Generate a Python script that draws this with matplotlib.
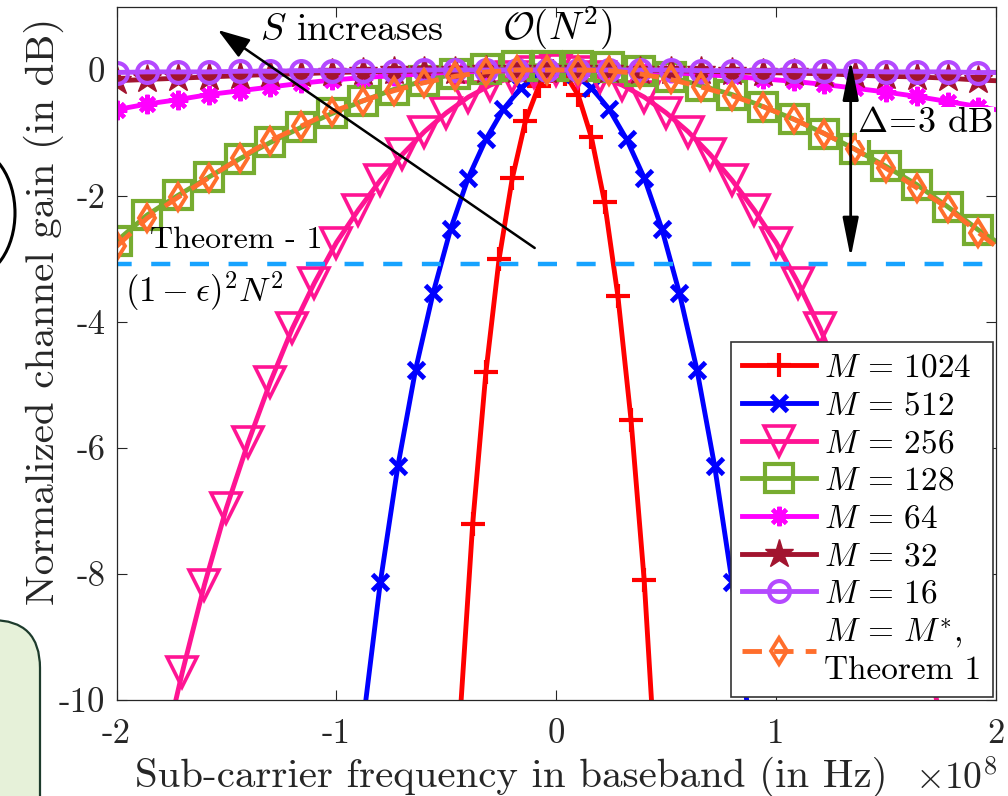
import numpy as np
import matplotlib.pyplot as plt
from matplotlib.patches import FancyBboxPatch, Ellipse
from matplotlib.transforms import IdentityTransform

plt.rcParams['font.family'] = 'serif'
plt.rcParams['font.serif'] = ['cmr10']
plt.rcParams['mathtext.fontset'] = 'cm'
plt.rcParams['axes.formatter.use_mathtext'] = True

# frequencies in units of 1e8 Hz
f_wide = [-2.00, -1.86, -1.72, -1.58, -1.44, -1.30, -1.16, -1.02, -0.88, -0.74,
          -0.60, -0.46, -0.32, -0.18, -0.04, 0.10, 0.24, 0.38, 0.52, 0.66,
          0.80, 0.94, 1.08, 1.22, 1.36, 1.50, 1.64, 1.78, 1.92, 2.00]
g16 = [-0.04, -0.03, -0.03, -0.03, -0.02, -0.02, -0.01, -0.01, -0.01, -0.01,
       0.00, 0.00, 0.00, 0.00, 0.00, 0.00, 0.00, 0.00, 0.00, -0.01,
       -0.01, -0.01, -0.01, -0.02, -0.02, -0.03, -0.03, -0.03, -0.04, -0.04]
g32 = [-0.17, -0.15, -0.13, -0.11, -0.09, -0.07, -0.06, -0.04, -0.03, -0.02,
       -0.02, -0.01, 0.00, 0.00, 0.00, 0.00, 0.00, -0.01, -0.01, -0.02,
       -0.03, -0.04, -0.05, -0.06, -0.08, -0.10, -0.11, -0.13, -0.16, -0.17]
g64 = [-0.63, -0.54, -0.47, -0.39, -0.33, -0.27, -0.21, -0.16, -0.12, -0.09,
       -0.06, -0.03, -0.02, -0.01, 0.00, 0.00, -0.01, -0.02, -0.04, -0.07,
       -0.10, -0.14, -0.18, -0.23, -0.29, -0.35, -0.42, -0.50, -0.58, -0.63]
g128 = [-2.72, -2.30, -1.99, -1.70, -1.41, -1.15, -0.91, -0.69, -0.49, -0.31,
        -0.17, -0.06, 0.02, 0.06, 0.07, 0.07, 0.04, -0.02, -0.11, -0.25,
        -0.39, -0.58, -0.78, -1.01, -1.26, -1.53, -1.82, -2.17, -2.54, -2.72]
g_opt = [-2.80, -2.35, -2.02, -1.71, -1.40, -1.12, -0.89, -0.66, -0.49, -0.33,
         -0.20, -0.10, -0.03, 0.00, 0.00, 0.00, -0.01, -0.06, -0.15, -0.27,
         -0.41, -0.58, -0.78, -1.01, -1.26, -1.56, -1.87, -2.19, -2.58, -2.80]

f256 = [-1.75, -1.7, -1.6, -1.5, -1.4, -1.3, -1.2, -1.1, -1.0, -0.9, -0.8, -0.7,
        -0.6, -0.5, -0.4, -0.3, -0.2, -0.1, 0.0, 0.1, 0.2, 0.3, 0.4, 0.5, 0.6,
        0.7, 0.8, 0.9, 1.0, 1.1, 1.2, 1.3, 1.4, 1.5, 1.6, 1.7, 1.75]
g256 = [-10.3, -9.55, -8.17, -6.95, -5.90, -4.95, -4.10, -3.38, -2.74, -2.22,
        -1.75, -1.34, -0.98, -0.68, -0.43, -0.24, -0.11, -0.03, 0.00, -0.03,
        -0.11, -0.24, -0.43, -0.68, -0.98, -1.34, -1.75, -2.22, -2.74, -3.38,
        -4.10, -4.95, -5.90, -6.95, -8.17, -9.55, -10.3]

f512 = [-0.88, -0.80, -0.72, -0.64, -0.56, -0.48, -0.40, -0.32, -0.24, -0.16,
        -0.08, 0.00, 0.08, 0.16, 0.24, 0.32, 0.40, 0.48, 0.56, 0.64, 0.72,
        0.80, 0.88]
g512 = [-10.4, -8.13, -6.28, -4.76, -3.54, -2.52, -1.71, -1.10, -0.62, -0.28,
        -0.07, 0.00, -0.07, -0.28, -0.62, -1.10, -1.71, -2.52, -3.54, -4.76,
        -6.28, -8.13, -10.4]

f1024 = [-0.44, -0.38, -0.32, -0.26, -0.20, -0.14, -0.08, -0.02, 0.04, 0.10,
         0.16, 0.22, 0.28, 0.34, 0.40, 0.44]
g1024 = [-10.4, -7.2, -4.8, -3.0, -1.72, -0.81, -0.26, -0.02, -0.06, -0.40,
         -1.07, -2.10, -3.58, -5.55, -8.1, -10.4]

bound_db = -3.08

fig = plt.figure(figsize=(10.08, 7.96), dpi=100)

# bits of the neighbouring figure panel that the crop cut into
px = IdentityTransform()
fig.patches.append(FancyBboxPatch((-120, -60), 160, 236,
                                  boxstyle='round,pad=0,rounding_size=48',
                                  fc='#e6f1d9', ec='#1d3b2c', lw=1.6,
                                  transform=px, figure=fig))
fig.patches.append(Ellipse((-30, 796 - 213), 90, 130, fill=False, ec='k',
                           lw=2.2, transform=px, figure=fig))

ax = fig.add_axes([116.5 / 1008, 96 / 796, 879.5 / 1008, 693 / 796])

lw = 3.5
ax.plot(f1024, g1024, '-', color='#ff0000', lw=lw, marker='+', ms=17,
        mew=3, markevery=slice(1, -1), label=r'$M\,=\,1024$')
ax.plot(f512, g512, '-', color='#0000ff', lw=lw, marker='x', ms=12,
        mew=3.5, markevery=slice(1, -1), label=r'$M\,=\,512$')
ax.plot(f256, g256, '-', color='#ff1493', lw=lw, marker='v', ms=22,
        mew=2.6, mfc='none', markevery=slice(1, -1), label=r'$M\,=\,256$')
ax.plot(f_wide, g128, '-', color='#77ac30', lw=lw, marker='s', ms=20,
        mew=3, mfc='none', markevery=slice(0, -1), label=r'$M\,=\,128$')
ax.plot(f_wide, g64, '-', color='#ff00ff', lw=lw, marker=(8, 2, 0), ms=14,
        mew=3, markevery=slice(0, -1), label=r'$M\,=\,64$')
ax.plot(f_wide, g32, '-', color='#a2142f', lw=lw, marker='*', ms=21,
        markevery=slice(0, -1), label=r'$M\,=\,32$')
ax.plot(f_wide, g16, '-', color='#b449ff', lw=lw, marker='o', ms=15,
        mew=3, mfc='none', markevery=slice(0, -1), label=r'$M\,=\,16$')
ax.plot(f_wide, g_opt, '--', color='#ff6e2c', lw=lw, marker='d', ms=13,
        mew=2.8, mfc='none', markevery=slice(0, -1), dashes=(4, 2.5),
        label='$M\\,=\\,M^{*}$,\nTheorem 1')
ax.axhline(bound_db, color='#17a3ff', lw=3.2, ls=(1, (4.3, 4.4)))

ax.set_xlim(-2, 2)
ax.set_ylim(-10, 1)
ax.set_xticks([-2, -1, 0, 1, 2])
ax.set_xticklabels(['-2', '-1', '0', '1', '2'])
ax.set_yticks([-10, -8, -6, -4, -2, 0])
ax.set_yticklabels(['-10', '-8', '-6', '-4', '-2', '0'])
ax.tick_params(direction='in', length=7, width=0.8, top=True, right=True,
               labelsize=25, colors='#262626')
ax.tick_params(axis='x', pad=13)
ax.tick_params(axis='y', pad=8)
for s in ax.spines.values():
    s.set_color('#262626')
    s.set_linewidth(0.9)

fig.text(511 / 1008, 9 / 796, 'Sub-carrier frequency in baseband (in Hz)',
         fontsize=29.5, ha='center', va='baseline', color='#262626')
fig.text(54 / 1008, 1 - 311 / 796, 'Normalized channel gain (in dB)',
         fontsize=29.5, rotation=90, rotation_mode='anchor', ha='center',
         va='baseline', color='#262626')
fig.text(997 / 1008, 7 / 796, r'$\times 10^{8}$', fontsize=27,
         ha='right', va='baseline', color='#262626')

ax.text(-1.848, -2.83, 'Theorem - 1', fontsize=23, ha='left', va='baseline')
ax.text(-1.961, -3.68, r'$(1-\epsilon)^2N^2$', fontsize=25, ha='left',
        va='baseline')
ax.text(-1.348, 0.476, r'$S$ increases', fontsize=27.5, ha='left',
        va='baseline')
ax.text(0.007, 0.476, r'$\mathcal{O}(N^2)$', fontsize=28, ha='center',
        va='baseline')
ax.text(1.37, -0.984, r'$\Delta\!=\!3$ dB', fontsize=26, ha='left',
        va='baseline', bbox=dict(fc='white', ec='none', pad=0.5))

ax.annotate('', xy=(-1.539, 0.635), xytext=(-0.098, -2.825),
            arrowprops=dict(arrowstyle='-|>,head_length=0.9,head_width=0.3',
                            mutation_scale=22, lw=1.8, color='k',
                            shrinkA=0, shrinkB=0))
ax.annotate('', xy=(1.339, 0.16), xytext=(1.339, -2.98),
            arrowprops=dict(arrowstyle='<|-|>,head_length=1.1,head_width=0.22',
                            mutation_scale=22, lw=2, color='k',
                            shrinkA=0, shrinkB=0))

leg = ax.legend(loc='lower right', fontsize=24, handlelength=2.2,
                handletextpad=0.24, labelspacing=0.25, borderpad=0.35,
                borderaxespad=0.1, fancybox=False, framealpha=1,
                edgecolor='#333333')
leg.get_frame().set_linewidth(1.2)

fig.savefig('out.png', dpi=100)
